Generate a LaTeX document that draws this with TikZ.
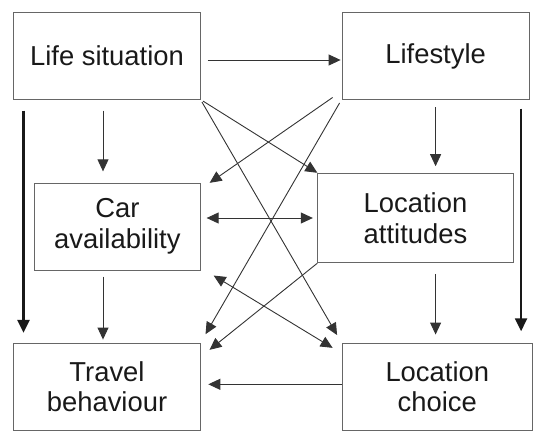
\documentclass[tikz,border=0pt]{standalone}
\usepackage{fontspec}
\setmainfont{Liberation Sans}
\usepackage{tikz}
\usetikzlibrary{arrows.meta,positioning}

\begin{document}
\begin{tikzpicture}[on grid,>={Triangle[length=12bp,width=11bp]},
	    every edge/.style={draw=black!80,line width=0.9bp},
	    thick arrow/.style={draw=black!90,line width=2.4bp,-{Triangle[length=13bp,width=12bp]}}]
	    	\tikzstyle{box}=[draw=black!60,line width=1bp,inner sep=0pt,align=center,
	    	  text=black!90,font=\fontsize{27.5}{31}\selectfont]
	    \useasboundingbox (-107bp,56bp) rectangle (436bp,-388bp);

	    \node[box,minimum width=186bp,minimum height=86bp]     (ls)                                                {Life situation};
	    \node[box,minimum width=187bp,minimum height=86bp]     (lst) [right of=ls,node distance=328.6bp]           {Lifestyle};
	    \node[box,minimum width=165.5bp,minimum height=86.7bp] (ca)  [below of=ls,node distance=170.7bp,xshift=10.4bp] {Car\\availability};
	    \node[box,minimum width=195.3bp,minimum height=89.4bp] (la)  [below of=lst,node distance=162bp,xshift=-20.1bp] {Location\\attitudes};
	    \node[box,minimum width=186bp,minimum height=86.7bp]   (tb)  [below of=ls,node distance=330.7bp]           {Travel\\behaviour};
	    \node[box,minimum width=190.4bp,minimum height=86.7bp] (lc)  [below of=lst,node distance=330.7bp,xshift=1.7bp] {Location\\choice};

	    \path[->]
	    ([shift={(7bp,-4bp)}]ls.east) edge ([shift={(-1bp,-4bp)}]lst.west)
	    ([xshift=-83.5bp]ls.south) edge [thick arrow,shorten <=11bp,shorten >=10bp] ([xshift=-83.5bp]tb.north)
	    ([xshift=-4bp]ls.south) edge [shorten <=11bp,shorten >=11.5bp] ([xshift=-4bp]ls.south |- ca.north)
	    (ls.south east) edge [shorten <=3bp] (la.north west)
	    (ls.south east) edge [shorten <=3bp,shorten >=9bp] (lc.north west)
	    (lst.south) edge [shorten <=7.7bp,shorten >=6.6bp] (lst.south |- la.north)
	    ([xshift=85.5bp]lst.south) edge [thick arrow,shorten <=9bp,shorten >=11.6bp] ([xshift=85.5bp]lst.south |- lc.north)
	    ([shift={(-9bp,2bp)}]lst.south west) edge ([xshift=9bp]ca.north east)
	    (lst.south west) edge [shorten <=4bp,shorten >=10bp] (tb.north east)
	    (la.west -| ca.east) edge [<->,shorten <=6bp,shorten >=4.5bp] (la.west)
	    ([shift={(13bp,-5bp)}]ca.south east) edge [<->] ([shift={(-9bp,-5bp)}]lc.north west)
	    ([xshift=-4bp]tb.north |- ca.south) edge [shorten <=6bp,shorten >=3.3bp] ([xshift=-4bp]tb.north)
	    (la.south -| lst.south) edge [shorten <=10.6bp,shorten >=8.3bp] (lc.north -| lst.south)
	    (la.south west) edge ([shift={(9bp,-7bp)}]tb.north east)
	    ([yshift=2.4bp]lc.west) edge [shorten >=7.8bp] ([yshift=2.4bp]tb.east);

	    	\end{tikzpicture}
\end{document}
